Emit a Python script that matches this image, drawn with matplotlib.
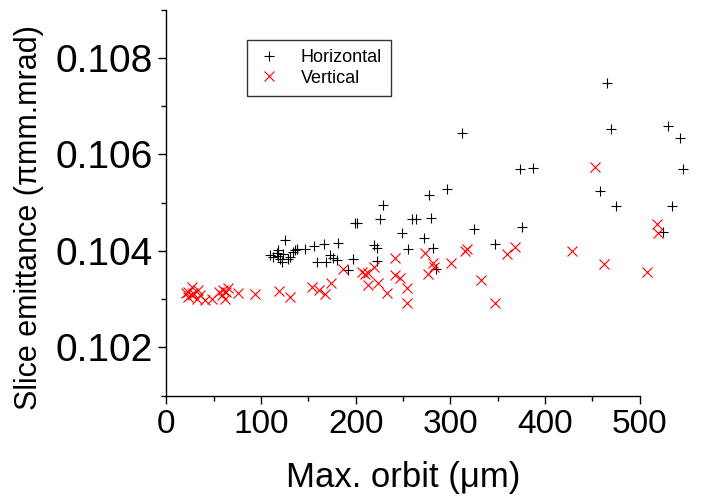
import matplotlib
matplotlib.use("Agg")
import matplotlib.pyplot as plt
from matplotlib.ticker import MultipleLocator

plt.rcParams['font.family'] = ['Liberation Sans', 'DejaVu Sans']

# max. orbit (um) and slice emittance, horizontal plane
orbit_h = [465.5, 469.7, 529.6, 542.6, 546.1, 312.0, 373.6, 387.6, 296.8, 277.1,
           228.6, 225.7, 199.0, 201.7, 259.2, 263.7, 279.6, 248.4, 272.2, 325.0,
           375.7, 458.1, 475.3, 534.1, 524.9, 219.4, 222.2, 255.6, 281.4, 347.2,
           196.9, 222.2, 284.9, 191.6, 181.0, 166.9, 156.3, 146.5, 137.7, 135.9,
           134.1, 130.7, 128.9, 125.4, 113.0, 116.6, 118.3, 120.1, 121.9, 117.7,
           158.9, 168.4, 172.9, 176.4, 180.0, 109.8, 123.6]
emit_h = [0.10747, 0.10652, 0.10659, 0.10634, 0.10570, 0.10644, 0.10570, 0.10572, 0.10528, 0.10516,
          0.10495, 0.10467, 0.10457, 0.10457, 0.10465, 0.10465, 0.10469, 0.10437, 0.10426, 0.10445,
          0.10449, 0.10524, 0.10493, 0.10493, 0.10439, 0.10413, 0.10406, 0.10403, 0.10406, 0.10415,
          0.10384, 0.10379, 0.10363, 0.10361, 0.10417, 0.10415, 0.10410, 0.10404, 0.10404, 0.10401,
          0.10398, 0.10388, 0.10384, 0.10422, 0.10388, 0.10395, 0.10401, 0.10384, 0.10377, 0.10390,
          0.10376, 0.10377, 0.10391, 0.10386, 0.10381, 0.10391, 0.10393]

# vertical plane
orbit_v = [452.8, 518.0, 519.7, 428.2, 462.3, 507.4, 368.0, 360.2, 315.5, 317.3,
           300.7, 272.9, 281.4, 282.4, 276.4, 241.9, 241.6, 246.8, 253.7, 254.2,
           232.8, 223.9, 213.3, 219.6, 206.4, 209.9, 213.3, 332.7, 346.6, 187.0,
           174.0, 154.2, 161.0, 168.1, 130.7, 119.2, 93.7, 76.0, 65.5, 60.2,
           62.0, 58.5, 55.7, 48.0, 40.9, 27.5, 33.8, 23.2, 26.8, 32.1,
           35.6, 22.9, 28.2, 20.8, 63.1]
emit_v = [0.10573, 0.10455, 0.10436, 0.10400, 0.10373, 0.10356, 0.10407, 0.10394, 0.10400, 0.10403,
          0.10374, 0.10395, 0.10375, 0.10367, 0.10351, 0.10385, 0.10349, 0.10344, 0.10322, 0.10291,
          0.10312, 0.10333, 0.10330, 0.10367, 0.10356, 0.10352, 0.10354, 0.10339, 0.10292, 0.10362,
          0.10334, 0.10324, 0.10318, 0.10311, 0.10305, 0.10316, 0.10311, 0.10312, 0.10322, 0.10318,
          0.10301, 0.10308, 0.10314, 0.10301, 0.10298, 0.10325, 0.10318, 0.10305, 0.10308, 0.10301,
          0.10308, 0.10315, 0.10312, 0.10312, 0.10314]

fig = plt.figure(figsize=(7.21, 4.99), dpi=100)
ax = fig.add_axes([0.2307, 0.2074, 0.6566, 0.7732])

ax.plot(orbit_h, emit_h, '+', color='black', ms=7, mew=0.8, label='Horizontal', clip_on=False)
ax.plot(orbit_v, emit_v, 'x', color='red', ms=7.5, mew=0.8, label='Vertical', clip_on=False)

ax.set_xlim(0, 500)
ax.set_ylim(0.101, 0.109)
ax.xaxis.set_major_locator(MultipleLocator(100))
ax.xaxis.set_minor_locator(MultipleLocator(50))
ax.yaxis.set_major_locator(MultipleLocator(0.002))
ax.yaxis.set_minor_locator(MultipleLocator(0.001))
ax.yaxis.set_major_formatter(plt.FuncFormatter(lambda v, p: f"{v:.3f}"))

for s in ['top', 'right']:
    ax.spines[s].set_visible(False)
for s in ['left', 'bottom']:
    ax.spines[s].set_linewidth(1.0)
ax.tick_params(which='major', direction='out', length=6, width=1.0, pad=4)
ax.tick_params(which='minor', direction='out', length=3.5, width=1.0)
ax.tick_params(axis='x', labelsize=24)
ax.tick_params(axis='y', labelsize=28)

ax.set_xlabel('Max. orbit (\u03bcm)', fontsize=25, labelpad=15)
ax.set_ylabel('Slice emittance (\u03c0mm.mrad)', fontsize=22)
ax.yaxis.set_label_coords(-0.258, 0.46)

leg = ax.legend(loc='upper left', bbox_to_anchor=(0.170, 0.921), borderaxespad=0,
                fontsize=13, fancybox=False, frameon=True, handletextpad=1.0,
                borderpad=0.5, labelspacing=0.2, handlelength=1.5)
leg.get_frame().set_edgecolor('black')
leg.get_frame().set_linewidth(1.0)

fig.savefig('out.png', dpi=100)
